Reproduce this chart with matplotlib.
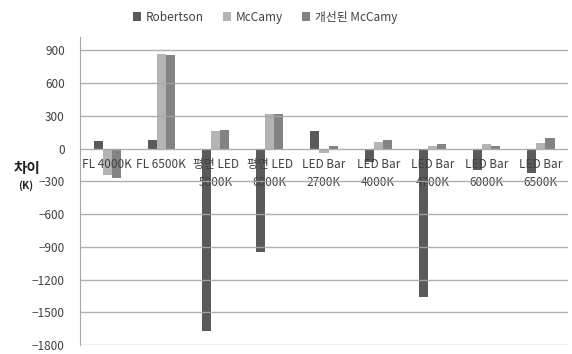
import numpy as np
import matplotlib.pyplot as plt

plt.rcParams['font.family'] = ['Noto Sans CJK KR', 'DejaVu Sans']

labels = ['FL 4000K', 'FL 6500K', '평면 LED\n5000K', '평면 LED\n6000K', 'LED Bar\n2700K',
          'LED Bar\n4000K', 'LED Bar\n4700K', 'LED Bar\n6000K', 'LED Bar\n6500K']
robertson = [70, 80, -1670, -950, 160, -120, -1360, -200, -220]
mccamy = [-245, 865, 160, 315, -45, 60, 25, 40, 55]
mccamy_new = [-270, 855, 172, 312, 25, 75, 40, 20, 95]

names = ['Robertson', 'McCamy', '개선된 McCamy']
colors = ['#5a5a5a', '#b4b4b4', '#838383']

fig = plt.figure(figsize=(5.72, 3.54), dpi=100)
ax = fig.add_axes([0.14, 0.025, 0.853, 0.87])
ax.set_axisbelow(False)  # grid and category labels sit on top of the bars

x = np.arange(len(labels))
w = 0.168
for k, (vals, name, c) in enumerate(zip([robertson, mccamy, mccamy_new], names, colors)):
    ax.bar(x + (k - 1) * w, vals, w, color=c, label=name, zorder=1)

ax.set_xlim(-0.5, len(labels) - 0.5)
ax.set_ylim(-1800, 1020)
ax.set_yticks(np.arange(-1800, 901, 300))
ax.yaxis.grid(True, color='#a6a6a6', linewidth=1.0, alpha=0.9)
ax.tick_params(axis='y', length=0, pad=11, labelsize=8.5, labelcolor='#404040')

ax.spines['bottom'].set_position(('data', 0))
ax.spines['bottom'].set_visible(False)
ax.spines['top'].set_visible(False)
ax.spines['right'].set_visible(False)
ax.spines['left'].set_color('#a6a6a6')
ax.set_xticks(x)
ax.set_xticklabels(labels, fontsize=8.5, color='#404040', linespacing=1.45)
ax.tick_params(axis='x', length=0, pad=7)

fig.text(0.047, 0.525, '차이', fontsize=10.5, fontweight='bold', ha='center', va='center', color='#222222')
fig.text(0.045, 0.477, '(K)', fontsize=7.5, fontweight='bold', ha='center', va='center', color='#222222')

fig.legend(loc='upper center', bbox_to_anchor=(0.463, 1.0), ncol=3, frameon=False,
           fontsize=8.5, handlelength=0.7, handleheight=0.7, handletextpad=0.4,
           columnspacing=1.6, labelcolor='#404040')

fig.savefig('out.png', dpi=100)
